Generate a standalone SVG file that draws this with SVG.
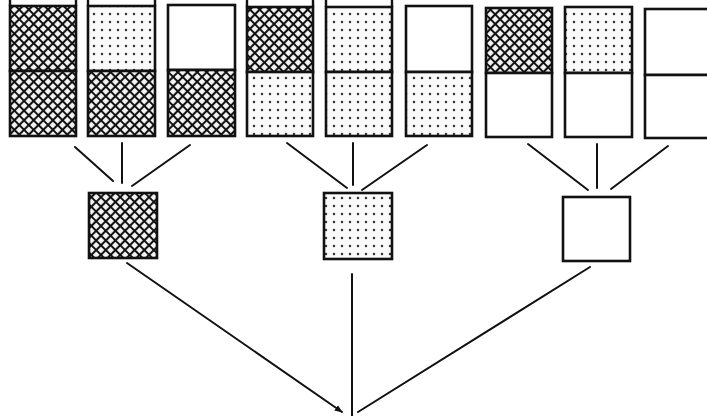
<svg xmlns="http://www.w3.org/2000/svg" width="707" height="416" viewBox="0 0 707 416">
<defs>
<pattern id="cross" patternUnits="userSpaceOnUse" width="6.8" height="6.8" patternTransform="rotate(45)">
<rect width="6.8" height="6.8" fill="#f4f4f4"/>
<path d="M0 0H6.8M0 0V6.8M0 6.8H6.8M6.8 0V6.8" stroke="#111" stroke-width="2.1"/>
</pattern>
<pattern id="dots" patternUnits="userSpaceOnUse" width="8" height="8" x="2" y="2">
<rect width="8" height="8" fill="#fafafa"/>
<circle cx="4" cy="4" r="1.25" fill="#333"/>
</pattern>
<marker id="tip" viewBox="0 0 10 10" refX="9" refY="5" markerWidth="4" markerHeight="4" orient="auto">
<path d="M0 1L10 5L0 9z" fill="#111"/>
</marker>
</defs>
<style>
.b{stroke:#111;stroke-width:2.6;}
.c{fill:url(#cross);}
.d{fill:url(#dots);}
.w{fill:#fff;}
.ln{stroke:#111;stroke-width:2;fill:none;stroke-linecap:round;}
.ext{stroke:#111;stroke-width:2.4;fill:none;}
</style>
<rect width="707" height="416" fill="#fff"/>
<g id="col1"><rect class="b c" x="10" y="6" width="66" height="65"/><rect class="b c" x="10" y="71" width="66" height="65"/><path class="ext" d="M10 0V6M76 0V6"/></g>
<g id="col2"><rect class="b d" x="88" y="6" width="67" height="65"/><rect class="b c" x="88" y="71" width="67" height="65"/><path class="ext" d="M88 0V6M155 0V6"/></g>
<g id="col3"><rect class="b w" x="168" y="5" width="67" height="65"/><rect class="b c" x="168" y="70" width="67" height="66"/></g>
<g id="col4"><rect class="b c" x="247" y="7" width="66" height="65"/><rect class="b d" x="247" y="72" width="66" height="64"/><path class="ext" d="M247 0V7M313 0V7"/></g>
<g id="col5"><rect class="b d" x="326" y="7" width="66" height="65"/><rect class="b d" x="326" y="72" width="66" height="64"/><path class="ext" d="M326 0V7M392 0V7"/></g>
<g id="col6"><rect class="b w" x="406" y="6" width="66" height="66"/><rect class="b d" x="406" y="72" width="66" height="64"/></g>
<g id="col7"><rect class="b c" x="486" y="8" width="66" height="65"/><rect class="b w" x="486" y="73" width="66" height="64"/></g>
<g id="col8"><rect class="b d" x="565" y="7" width="67" height="66"/><rect class="b w" x="565" y="73" width="67" height="64"/></g>
<g id="col9"><rect class="b w" x="645" y="9" width="64" height="66"/><rect class="b w" x="645" y="75" width="64" height="63"/></g>
<g id="sq1"><rect class="b c" x="89" y="193" width="68" height="65"/></g>
<g id="sq2"><rect class="b d" x="324" y="193" width="68" height="66"/></g>
<g id="sq3"><rect class="b w" x="563" y="197" width="67" height="64"/></g>
<g id="connectors">
<path class="ln" d="M75 147L113 181M122 143V183M190 145L132 186"/>
<path class="ln" d="M287 143L347 188M353 143V185M427 145L362 190"/>
<path class="ln" d="M528 144L588 190M597 144V188M668 146L611 189"/>
<path class="ln" d="M127 263L342 412" marker-end="url(#tip)"/>
<path class="ln" d="M352 274V416M590 267L358 412"/>
</g>
</svg>
